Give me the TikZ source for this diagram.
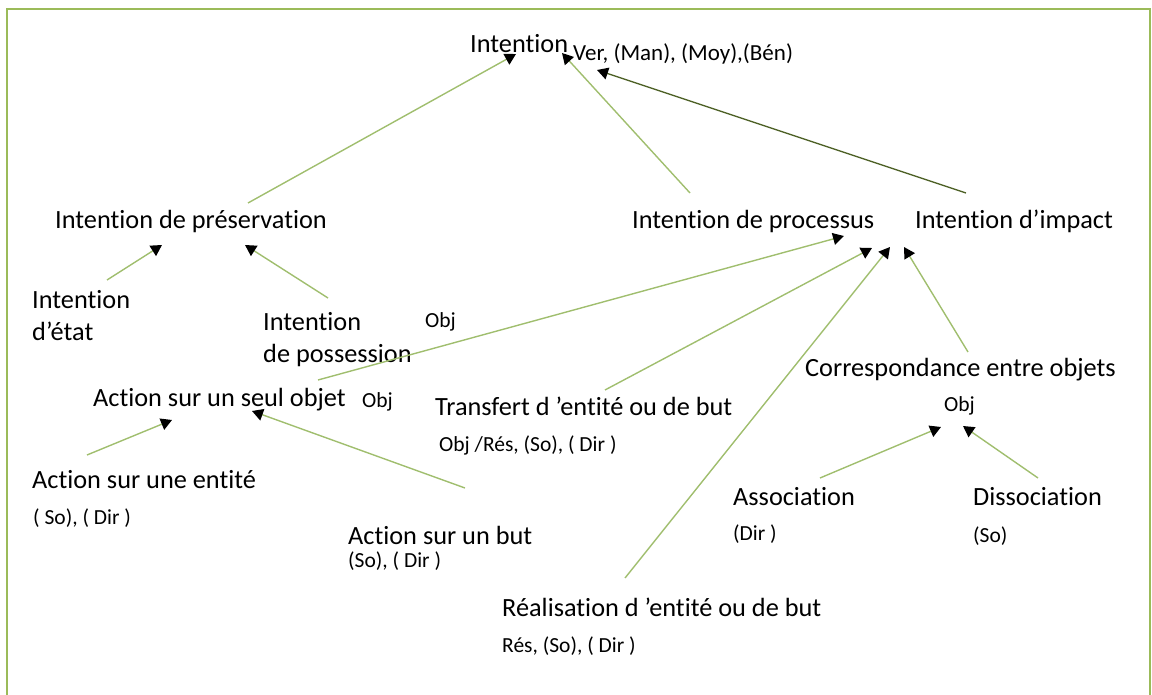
\documentclass[tikz,border=0pt]{standalone}
\usepackage{fontspec}
\setmainfont{Carlito}[Ligatures=NoCommon]
\usetikzlibrary{arrows.meta}

\definecolor{framegreen}{RGB}{155,187,89}
\definecolor{linkgreen}{RGB}{160,190,110}
\definecolor{darklink}{RGB}{79,98,40}

\tikzset{
  lbl/.style={anchor=base west, inner sep=0pt, font=\fontsize{26.3}{32}\selectfont},
  note/.style={anchor=base west, inner sep=0pt, font=\fontsize{21.5}{26}\selectfont},
  link/.style={draw=linkgreen, line width=1.4pt, -{Triangle[length=11pt,width=12pt,color=black]}},
}

\begin{document}
\begin{tikzpicture}[x=1pt,y=-1pt]
  \useasboundingbox (0,0) rectangle (1152,695);

  % Frame
  \draw[framegreen, line width=2.6pt] (7,695) -- (7,9) -- (1150,9) -- (1150,695);

  % Top
  \node[lbl] (int) at (470,53) {Intention};
  \node[note, font=\fontsize{23}{27}\selectfont] (ver) at (573,61) {Ver, (Man), (Moy),(Bén)};

  % Intentions
  \node[lbl] (pres) at (55,229) {Intention de préservation};
  \node[lbl] (proc) at (632,229) {Intention de processus};
  \node[lbl] (imp) at (915,229) {Intention d’impact};

  % Preservation
  \node[lbl, anchor=north west, align=left] (etat) at (32,290) {Intention\\d’état};
  \node[lbl, anchor=north west, align=left] (poss) at (263,312) {Intention\\de possession};
  \node[note] (obja) at (425,327) {Obj};

  % Processus
  \node[lbl] (seul) at (93,406) {Action sur un seul objet};
  \node[note] (objb) at (362,407) {Obj};
  \node[lbl] (trans) at (435,415) {Transfert d ’entité ou de but};
  \node[note] (transr) at (439,451) {Obj /Rés, (So), ( Dir )};
  \node[lbl] (ent) at (32,488) {Action sur une entité};
  \node[note] (entr) at (33,524) {( So), ( Dir )};
  \node[lbl] (but) at (348,544) {Action sur un but};
  \node[note] (butr) at (348,567) {(So), ( Dir )};
  \node[lbl] (real) at (502,616) {Réalisation d ’entité ou de but};
  \node[note] (realr) at (502,652) {Rés, (So), ( Dir )};

  % Impact
  \node[lbl] (corr) at (805,376) {Correspondance entre objets};
  \node[note] (objc) at (944,411) {Obj};
  \node[lbl] (asso) at (733,505) {Association};
  \node[note] (assor) at (733,540) {(Dir )};
  \node[lbl] (disso) at (973,505) {Dissociation};
  \node[note] (dissor) at (973,542) {(So)};

  % Links
  \draw[link] ([shift={(193,-26)}]pres.base west) -- ([shift={(46,1)}]int.base west);
  \draw[link] ([shift={(58,-36)}]proc.base west) -- ([shift={(92,0)}]int.base west);
  \draw[link, draw=darklink] ([shift={(51,-36)}]imp.base west) -- ([shift={(127,17)}]int.base west);
  \draw[link] ([shift={(75,-10)}]etat.north west) -- ([shift={(107,16)}]pres.base west);
  \draw[link] ([shift={(65,-14)}]poss.north west) -- ([shift={(190,16)}]pres.base west);
  \draw[link] ([shift={(225,-26)}]seul.base west) -- ([shift={(212,7)}]proc.base west);
  \draw[link] ([shift={(170,-25)}]trans.base west) -- ([shift={(240,19)}]proc.base west);
  \draw[link] ([shift={(123,-38)}]real.base west) -- ([shift={(258,18)}]proc.base west);
  \draw[link] ([shift={(163,-24)}]corr.base west) -- ([shift={(-11,18)}]imp.base west);
  \draw[link] ([shift={(55,-33)}]ent.base west) -- ([shift={(79,14)}]seul.base west);
  \draw[link] ([shift={(117,-56)}]but.base west) -- ([shift={(159,5)}]seul.base west);
  \draw[link] ([shift={(87,-27)}]asso.base west) -- ([shift={(-3,16)}]objc.base west);
  \draw[link] ([shift={(65,-27)}]disso.base west) -- ([shift={(19,15)}]objc.base west);
\end{tikzpicture}
\end{document}
